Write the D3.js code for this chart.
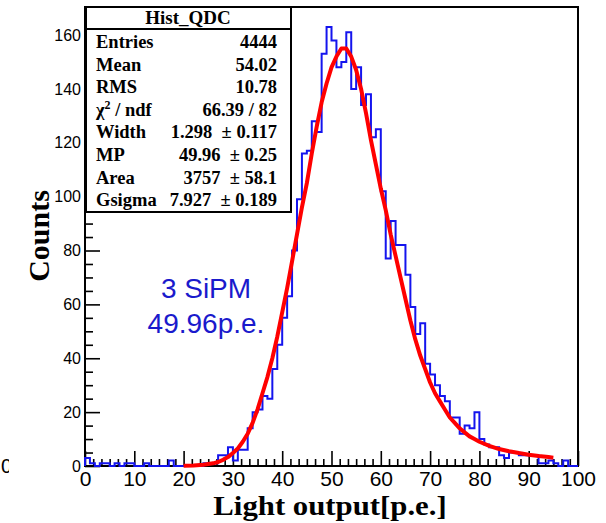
<!DOCTYPE html>
<html>
<head>
<meta charset="utf-8">
<script src="https://cdn.jsdelivr.net/npm/d3@7"></script>
<style>
  body { margin: 0; background: #fff; }
  svg { display: block; }
</style>
</head>
<body>
<svg id="canvas" width="606" height="523"></svg>
<script>
// histogram: 100 bins of width 1 p.e., 0..100
const binEdges = d3.range(0, 101, 1);
const counts = [
  3, 1, 0, 1, 1, 0, 1, 0, 1, 1,
  0, 0, 1, 0, 0, 0, 0, 2, 0, 0,
  0, 0, 0, 0, 1, 1, 1, 4, 4, 7,
  2, 6, 6, 14, 20, 21, 26, 25, 36, 45,
  55, 63, 80, 99, 116, 117, 128, 124, 153, 163,
  158, 148, 150, 161, 140, 148, 134, 138, 122, 125,
  102, 77, 91, 82, 82, 71, 59, 49, 53, 38,
  34, 30, 26, 24, 18, 18, 12, 15, 14, 20,
  10, 8, 7, 7, 4, 3, 5, 5, 4, 4,
  4, 4, 1, 1, 2, 1, 0, 2, 0, 0
];

// fitted Landau x Gauss curve
const fitX = [20, 22, 24, 26, 27, 28, 29, 30, 31, 32, 33, 34, 35, 36, 37, 38, 39, 40,
  41, 42, 43, 44, 45, 46, 47, 48, 49, 50, 51, 52, 53, 54, 55, 56, 57, 58, 59, 60,
  61, 62, 63, 64, 65, 66, 67, 68, 69, 70, 71, 72, 73, 74, 75, 76, 77, 78, 79, 80,
  82, 84, 86, 88, 90, 92, 94, 95];
const fitY = [0.1, 0.2, 0.5, 1, 1.5, 2.3, 3.3, 4.8, 6.5, 9, 12, 16, 21, 27, 33, 40, 48, 57,
  66, 76, 86, 96, 105, 116, 126, 135, 142, 148, 152, 155, 155, 152, 147, 140, 131, 121, 112, 103,
  95, 86, 78, 70, 62, 54, 47, 41, 36, 31, 27, 24, 21, 18, 16, 14, 12.5, 11, 10, 9,
  7.5, 6.3, 5.5, 4.8, 4.2, 3.7, 3.3, 3.1];

const xMajor = d3.range(0, 101, 10);
const yMajor = d3.range(0, 161, 20);

const statsTitle = 'Hist_QDC';
const statsNames = ['Entries', 'Mean', 'RMS', 'chi2', 'Width', 'MP', 'Area', 'Gsigma'];
const statsValues = ['4444', '54.02', '10.78', '66.39 / 82', '1.298  \u00b1 0.117',
  '49.96  \u00b1 0.25', '3757  \u00b1 58.1', '7.927  \u00b1 0.189'];

const noteLines = ['3 SiPM', '49.96p.e.'];

const svg = d3.select('svg#canvas');

const x = d3.scaleLinear().domain([0, 100]).range([85, 578]),
  y = d3.scaleLinear().domain([0, 170.4]).range([466, 7]);

// axes, ticks pointing into the frame
const xMinor = d3.range(0, 100.01, 10 / 6).filter(v => Math.abs(v / 10 - Math.round(v / 10)) > 0.01);
svg.append('g')
  .attr('transform', `translate(0,${y(0)})`)
  .call(d3.axisBottom(x).tickValues(xMinor).tickSize(-7).tickFormat(''))
  .call(g => g.select('.domain').remove());
svg.append('g')
  .attr('transform', `translate(0,${y(0)})`)
  .call(d3.axisBottom(x).tickValues(xMajor).tickSize(-15).tickPadding(5).tickFormat(d3.format('d')))
  .call(g => g.select('.domain').remove())
  .call(g => g.selectAll('text').attr('font-family', 'Liberation Sans, Arial, sans-serif').attr('font-size', 21).attr('fill', '#000'));

const yMinor = d3.range(0, 171, 5).filter(v => v % 20 !== 0);
svg.append('g')
  .attr('transform', `translate(${x(0)},0)`)
  .call(d3.axisLeft(y).tickValues(yMinor).tickSize(-8).tickFormat(''))
  .call(g => g.select('.domain').remove());
svg.append('g')
  .attr('transform', `translate(${x(0)},0)`)
  .call(d3.axisLeft(y).tickValues(yMajor).tickSize(-15).tickPadding(4).tickFormat(d3.format('d')))
  .call(g => g.select('.domain').remove())
  .call(g => g.selectAll('text').attr('font-family', 'Liberation Sans, Arial, sans-serif').attr('font-size', 16).attr('fill', '#000'));

svg.selectAll('.tick line').attr('stroke', '#000').attr('stroke-width', 1.6);

// frame
svg.append('rect')
  .attr('x', x(0)).attr('y', y(170.4))
  .attr('width', x(100) - x(0)).attr('height', y(0) - y(170.4))
  .attr('fill', 'none').attr('stroke', '#000').attr('stroke-width', 2);

// histogram outline
const histPts = [[0, 0]];
counts.forEach((c, i) => { histPts.push([binEdges[i], c]); histPts.push([binEdges[i + 1], c]); });
histPts.push([100, 0]);
svg.append('path')
  .datum(histPts)
  .attr('fill', 'none')
  .attr('stroke', '#1414ee')
  .attr('stroke-width', 2)
  .attr('d', d3.line().x(d => x(d[0])).y(d => y(d[1])));

// fit curve
svg.append('path')
  .datum(fitX.map((v, i) => [v, fitY[i]]))
  .attr('fill', 'none')
  .attr('stroke', '#ff0000')
  .attr('stroke-width', 4)
  .attr('stroke-linejoin', 'round')
  .attr('d', d3.line().x(d => x(d[0])).y(d => y(d[1])));

// stats box
const box = svg.append('g').attr('font-family', 'Liberation Serif, Times New Roman, serif')
  .attr('font-weight', 'bold').attr('font-size', 18.5).attr('fill', '#000');
box.append('rect').attr('x', 86).attr('y', 7).attr('width', 205).attr('height', 205)
  .attr('fill', '#fff').attr('stroke', '#000').attr('stroke-width', 2);
box.append('line').attr('x1', 86).attr('x2', 291).attr('y1', 29).attr('y2', 29)
  .attr('stroke', '#000').attr('stroke-width', 2);
box.append('text').attr('x', 188).attr('y', 24).attr('text-anchor', 'middle')
  .attr('font-size', 19).text(statsTitle);

statsNames.forEach((name, i) => {
  const by = 48 + i * 22.6;
  const t = box.append('text').attr('x', 96).attr('y', by);
  if (name === 'chi2') {
    t.append('tspan').text('\u03c7');
    t.append('tspan').attr('font-size', 12).attr('dy', -7).text('2');
    t.append('tspan').attr('dy', 7).text(' / ndf');
  } else {
    t.text(name);
  }
  box.append('text').attr('x', 277).attr('y', by).attr('text-anchor', 'end')
    .style('white-space', 'pre').text(statsValues[i]);
});

// annotation
svg.append('g')
  .selectAll('text')
  .data(noteLines)
  .join('text')
  .attr('x', 206)
  .attr('y', (d, i) => 298 + i * 35)
  .attr('text-anchor', 'middle')
  .attr('font-family', 'Liberation Sans, Arial, sans-serif')
  .attr('font-size', 28)
  .attr('fill', '#1a1acc')
  .text(d => d);

// axis titles
svg.append('text')
  .attr('transform', 'translate(49,236) rotate(-90)')
  .attr('text-anchor', 'middle')
  .attr('font-family', 'Liberation Serif, Times New Roman, serif')
  .attr('font-weight', 'bold').attr('font-size', 30)
  .text('Counts');
svg.append('text')
  .attr('transform', 'translate(330,515) scale(1.14,1)')
  .attr('text-anchor', 'middle')
  .attr('font-family', 'Liberation Serif, Times New Roman, serif')
  .attr('font-weight', 'bold').attr('font-size', 27)
  .text('Light output[p.e.]');

// leftover label from the neighbouring panel, cut at the edge
svg.append('clipPath').attr('id', 'edge').append('rect').attr('x', 0).attr('y', 440).attr('width', 9).attr('height', 40);
svg.append('text')
  .attr('clip-path', 'url(#edge)')
  .attr('x', 1).attr('y', 473)
  .attr('font-family', 'Liberation Sans, Arial, sans-serif')
  .attr('font-size', 20)
  .text('0');
</script>
</body>
</html>
